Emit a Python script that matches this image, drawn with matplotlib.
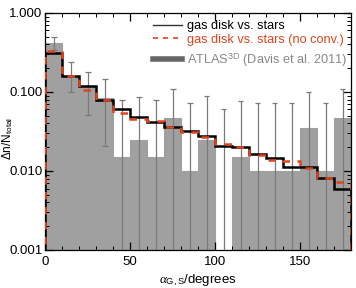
import numpy as np
import matplotlib
matplotlib.use("Agg")
import matplotlib.pyplot as plt
from matplotlib.lines import Line2D
from matplotlib.ticker import FixedLocator, FixedFormatter, LogLocator, NullFormatter

plt.rcParams['font.family'] = ['Liberation Sans', 'DejaVu Sans']
plt.rcParams['mathtext.fontset'] = 'custom'
plt.rcParams['mathtext.rm'] = 'Liberation Sans'
plt.rcParams['mathtext.it'] = 'Liberation Serif:italic'

bin_edges = np.arange(0, 181, 10)
atlas = [0.42, 0.155, 0.115, 0.084, 0.015, 0.025, 0.015, 0.047, 0.010,
         0.025, 0.0, 0.015, 0.010, 0.010, 0.010, 0.035, 0.010, 0.047]
atlas_err_top = [0.50, 0.24, 0.18, 0.146, 0.079, 0.087, 0.079, 0.109, 0.073,
                 0.089, 0.061, 0.077, 0.073, 0.073, 0.073, 0.100, 0.073, 0.109]
atlas_err_bot = [0.34, 0.10, 0.051, 0.021, 0, 0, 0, 0, 0,
                 0, 0, 0, 0, 0, 0, 0, 0, 0]
gas_stars = [0.31, 0.16, 0.12, 0.079, 0.061, 0.048, 0.042, 0.036, 0.032,
             0.028, 0.021, 0.020, 0.0165, 0.0146, 0.0112, 0.0112, 0.0082, 0.0060]
gas_stars_noconv = [0.33, 0.16, 0.106, 0.078, 0.054, 0.045, 0.043, 0.036, 0.031,
                    0.027, 0.022, 0.020, 0.016, 0.0138, 0.0135, 0.011, 0.0082, 0.0073]
x_ticks = [0, 50, 100, 150]
y_ticks = [0.001, 0.01, 0.1, 1.0]
y_ticklabels = ['0.001', '0.010', '0.100', '1.000']

gray_bar = '#a0a0a0'
gray_err = '#7a7a7a'
red = '#e0441c'

fig = plt.figure(figsize=(3.56, 2.88), dpi=100)
ax = fig.add_axes([0.127, 0.132, 0.859, 0.823])
ax.set_yscale('log', nonpositive='clip')

edges = np.array(bin_edges, dtype=float)
centers = 0.5 * (edges[:-1] + edges[1:])
vals = np.array(atlas)
ax.bar(edges[:-1], vals, width=np.diff(edges), align='edge', color=gray_bar,
       edgecolor=gray_bar, linewidth=0.8, zorder=1)

top = np.array(atlas_err_top)
bot = np.array(atlas_err_bot)
ax.vlines(centers, np.where(bot > 0, bot, 1e-6), top, color=gray_err, lw=0.9, zorder=2)
ax.hlines(top, centers - 1.7, centers + 1.7, color=gray_err, lw=0.9, zorder=2)
mask = bot > 0
ax.hlines(bot[mask], centers[mask] - 1.7, centers[mask] + 1.7, color=gray_err, lw=0.9, zorder=2)

ax.stairs(gas_stars, edges, baseline=1e-6, color='black', lw=1.8, zorder=3)
ax.stairs(gas_stars_noconv, edges, baseline=1e-6, color=red, lw=1.8,
          linestyle=(0, (3, 3)), zorder=4)

ax.set_xlim(0, 180)
ax.set_ylim(0.001, 1.0)
ax.xaxis.set_major_locator(FixedLocator(x_ticks))
ax.xaxis.set_minor_locator(FixedLocator(np.arange(0, 181, 10)))
ax.yaxis.set_major_locator(FixedLocator(y_ticks))
ax.yaxis.set_major_formatter(FixedFormatter(y_ticklabels))
ax.yaxis.set_minor_locator(LogLocator(base=10, subs=np.arange(2, 10)))
ax.yaxis.set_minor_formatter(NullFormatter())
ax.tick_params(which='both', direction='in', top=True, right=True, labelsize=9.5)
ax.tick_params(axis='y', which='major', pad=2)
ax.tick_params(axis='x', which='major', pad=4)
ax.tick_params(which='major', length=6, width=0.9)
ax.tick_params(which='minor', length=3, width=0.7)
for s in ax.spines.values():
    s.set_linewidth(0.9)

ax.set_xlabel(r'$\alpha_{\rm G,S}$/degrees', fontsize=9.5, labelpad=3)
ax.set_ylabel(r'$\Delta$n/N$_{\rm total}$', fontsize=8.5)
ax.yaxis.set_label_coords(-0.1, 0.47)

handles1 = [Line2D([], [], color='#333333', lw=1.0),
            Line2D([], [], color=red, lw=1.2, linestyle=(0, (3, 3)))]
labels1 = ['gas disk vs. stars', 'gas disk vs. stars (no conv.)']
leg1 = ax.legend(handles1, labels1, loc='upper left', bbox_to_anchor=(0.34, 0.985),
                 frameon=False, fontsize=9.2, handlelength=2.3, handletextpad=0.35,
                 labelspacing=0.12, borderaxespad=0.0, borderpad=0.3)
for t, c in zip(leg1.get_texts(), ['black', red]):
    t.set_color(c)
ax.add_artist(leg1)

handles2 = [Line2D([], [], color='#666666', lw=4.0)]
labels2 = [r'ATLAS$^{\rm 3D}$ (Davis et al. 2011)']
leg2 = ax.legend(handles2, labels2, loc='upper left', bbox_to_anchor=(0.34, 0.855),
                 frameon=False, fontsize=9.2, handlelength=2.3, handletextpad=0.35,
                 borderaxespad=0.0, borderpad=0.3)
leg2.get_texts()[0].set_color('#888888')

fig.savefig('out.png', dpi=100)
